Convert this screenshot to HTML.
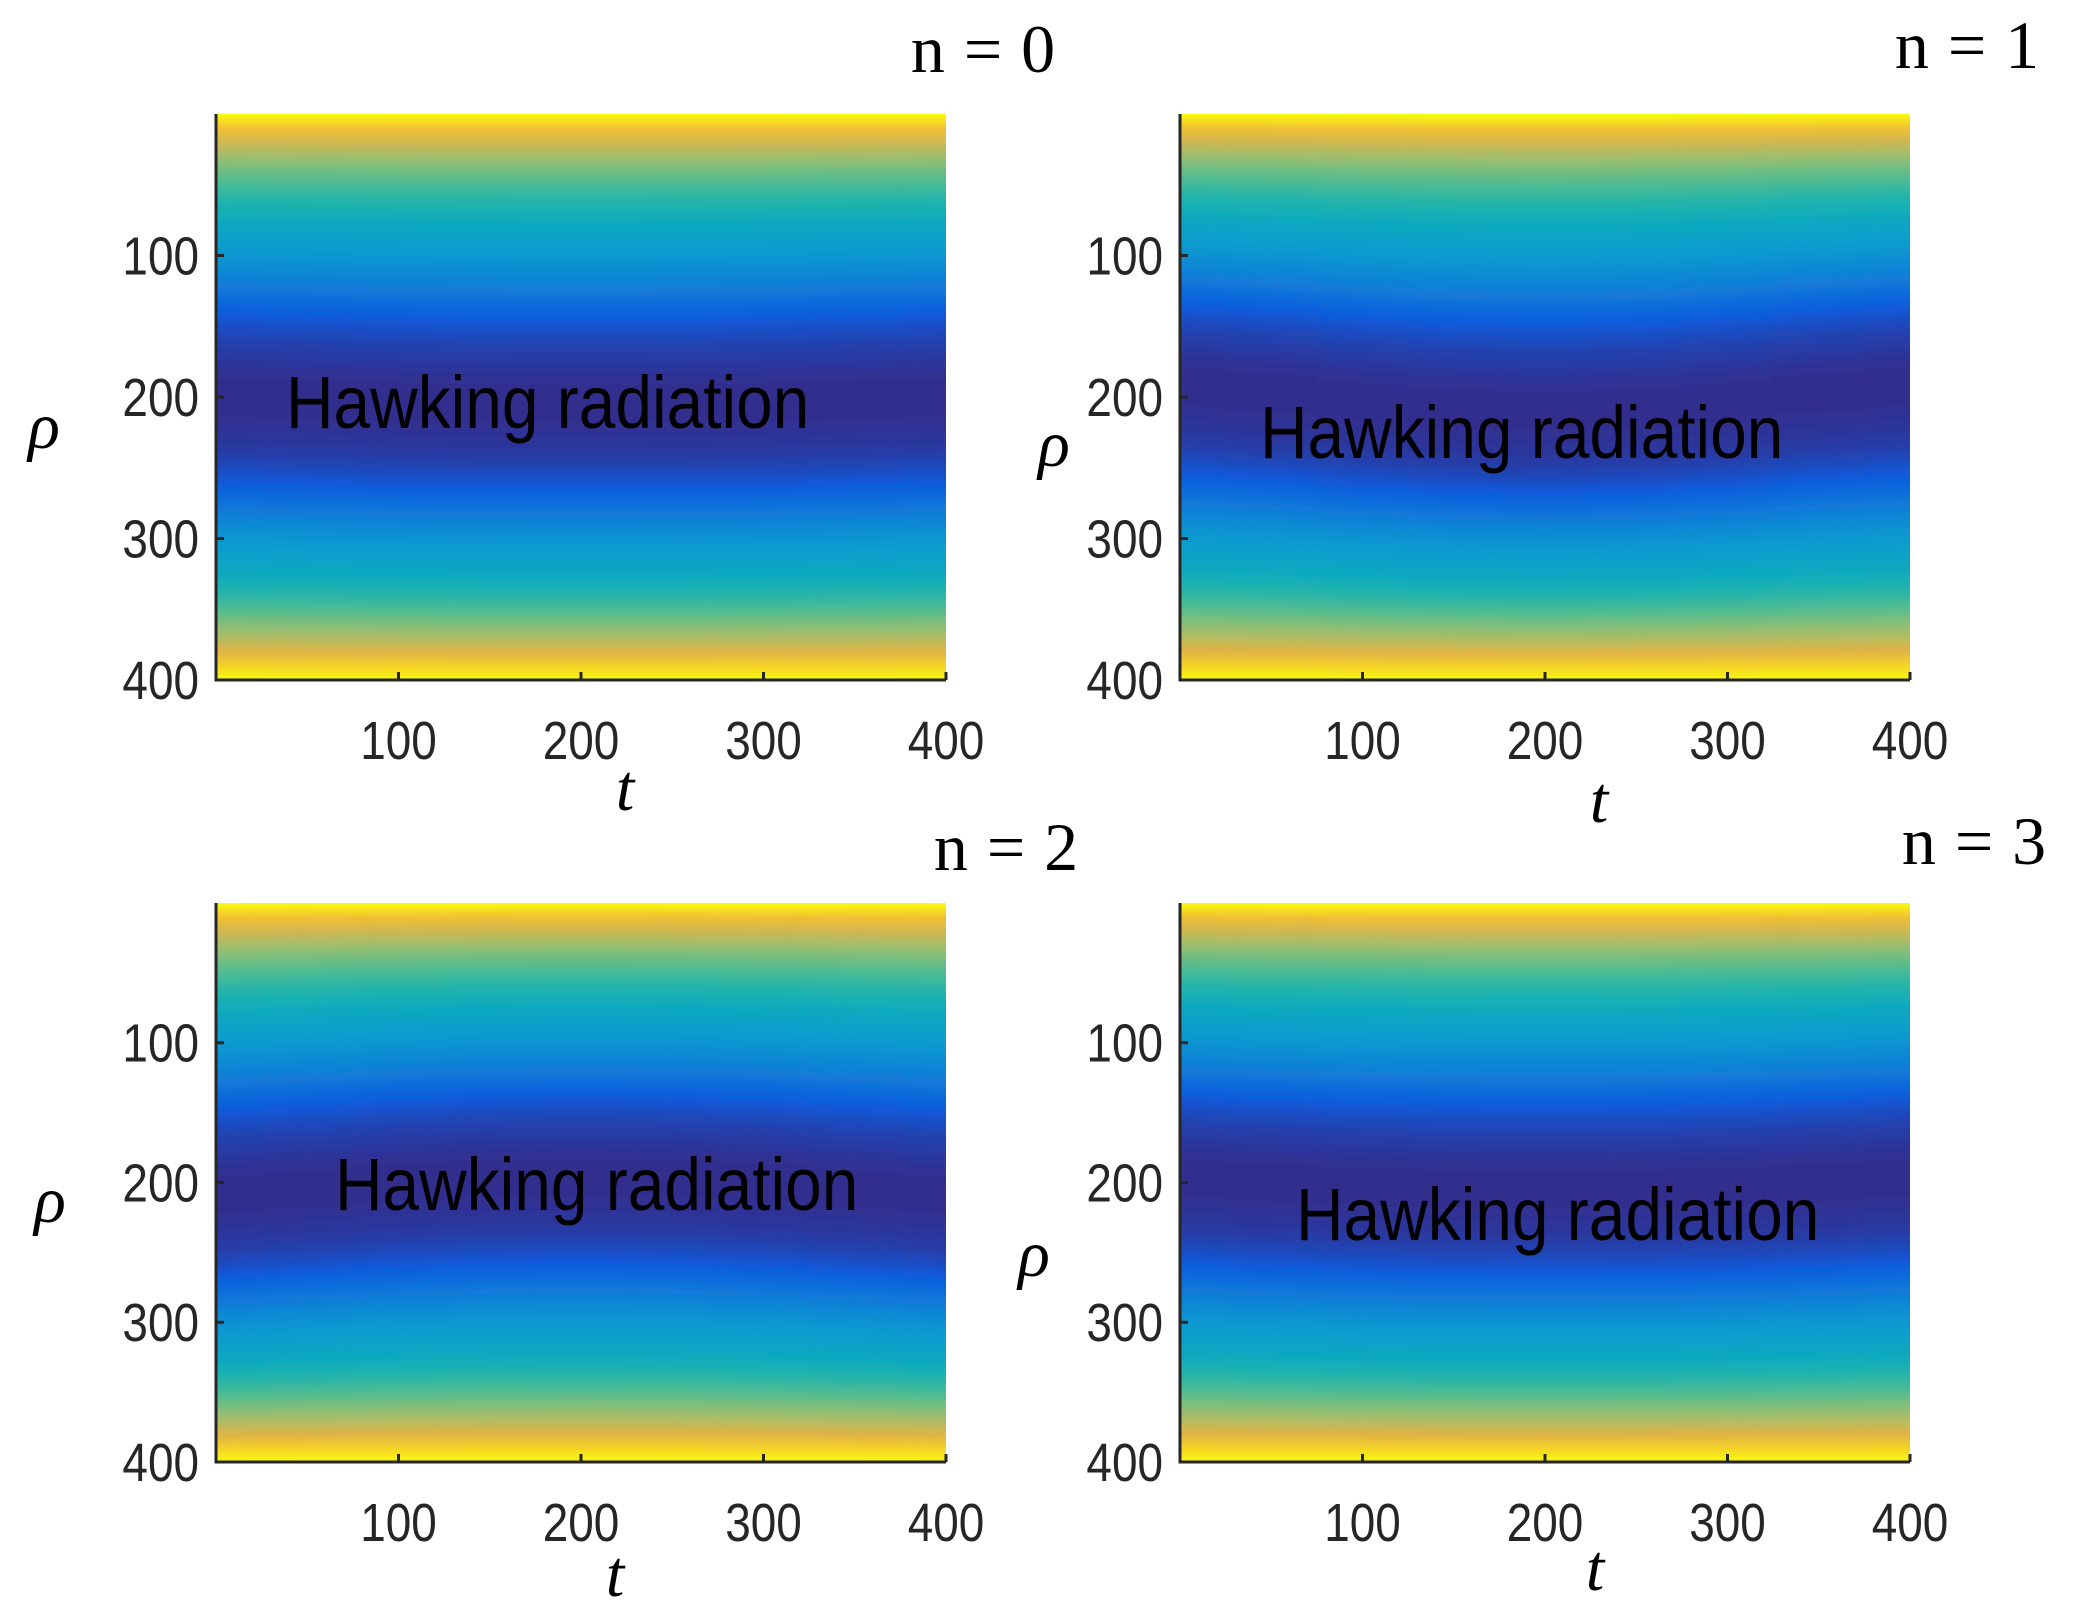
<!DOCTYPE html>
<html><head><meta charset="utf-8"><style>
body{margin:0;background:#fff}
svg{display:block}
.tk{font-family:"Liberation Sans",sans-serif;font-size:54px;fill:#262626}
.hw{font-family:"Liberation Sans",sans-serif;font-size:74px;fill:#000}
.tt{font-family:"Liberation Serif",serif;font-size:68px;fill:#000;word-spacing:2px}
.ax{font-family:"Liberation Serif",serif;font-style:italic;font-size:66px;fill:#000}
</style></head><body>
<svg id="c" width="2073" height="1617" viewBox="0 0 2073 1617" xmlns="http://www.w3.org/2000/svg"><defs id="d"><filter id="hb" x="0" y="0" width="1" height="1"><feGaussianBlur stdDeviation="30 0"/></filter></defs></svg>
<script>
const rhoLevels=[0,10,20,30,40,50,60,70,80,90,100,110,120,130,140,150,160,170,180,190,200,210,220,230,240,250,260,270,280,290,300,310,320,330,340,350,360,370,380,390,400];
const profile=[1.0,0.9,0.82,0.74,0.66,0.59,0.53,0.48,0.43,0.39,0.35,0.3,0.25,0.19,0.13,0.09,0.06,0.04,0.02,0.01,0.01,0.01,0.02,0.03,0.05,0.08,0.12,0.18,0.24,0.3,0.35,0.39,0.43,0.48,0.54,0.61,0.69,0.77,0.85,0.93,1.0];
const tCols=[0,50,100,150,200,250,300,350,400];
const shiftN0=[0,2,4,5,5,5,4,2,0];
const shiftN1=[-8,-3,4,9,11,9,4,-3,-8];
const shiftN2=[10,5,0,-3,-4,-3,0,5,10];
const shiftN3=[-4,0,3,5,5,5,3,0,-4];
const tickVals=[100,200,300,400];
const titles=["n = 0","n = 1","n = 2","n = 3"];
const panels=[
 {x0:216,x1:946,y0:114,y1:680,sh:shiftN0,tx:983,ty:72,tl:[625,810],rl:[44,448],hw:[286,428]},
 {x0:1180,x1:1910,y0:114,y1:680,sh:shiftN1,tx:1967,ty:68,tl:[1599,822],rl:[1054,466],hw:[1260,458]},
 {x0:216,x1:946,y0:903,y1:1462,sh:shiftN2,tx:1006,ty:870,tl:[615,1596],rl:[50,1222],hw:[335,1210]},
 {x0:1180,x1:1910,y0:903,y1:1462,sh:shiftN3,tx:1974,ty:864,tl:[1595,1590],rl:[1034,1276],hw:[1296,1240]}
];
const cmap=[[53,42,135],[15,92,221],[18,125,216],[7,156,207],[21,177,180],[89,189,140],[165,190,107],[240,178,60],[249,251,14]];
function col(v){v=Math.max(0,Math.min(1,v));const p=v*(cmap.length-1),i=Math.min(cmap.length-2,Math.floor(p)),f=p-i;
 const c=cmap[i].map((a,k)=>Math.round(a+(cmap[i+1][k]-a)*f));return `rgb(${c[0]},${c[1]},${c[2]})`;}
const NS="http://www.w3.org/2000/svg",svg=document.getElementById('c'),defs=document.getElementById('d');
function mk(t,a,p){const e=document.createElementNS(NS,t);for(const k in a)e.setAttribute(k,a[k]);(p||svg).appendChild(e);return e;}
panels.forEach((P,pi)=>{
 const g=mk('g',{});
 
 
 const xs=t=>P.x0+(P.x1-P.x0)*t/400, ys=r=>P.y0+(P.y1-P.y0)*r/400;
 const w=(P.x1-P.x0)/(tCols.length-1);
 const cp=mk('clipPath',{id:'cp'+pi},defs);
 mk('rect',{x:P.x0,y:P.y0,width:P.x1-P.x0,height:P.y1-P.y0},cp);
 const clipG=mk('g',{'clip-path':`url(#cp${pi})`},g);
 const hm=mk('g',{filter:'url(#hb)'},clipG);
 
 
 tCols.forEach((t,ci)=>{
  const gid='g'+pi+'_'+ci;
  const lg=mk('linearGradient',{id:gid,x1:0,y1:0,x2:0,y2:1},defs);
  rhoLevels.forEach((r,ri)=>{
   const rr=Math.max(0,Math.min(400,r+P.sh[ci]*(1-Math.abs(r-200)/200)));
   mk('stop',{offset:(rr/400).toFixed(4),'stop-color':col(profile[ri])},lg);
  });
  let x=xs(t)-w/2,x2=xs(t)+w/2+1;
  if(ci===0)x-=120; if(ci===tCols.length-1)x2+=120;
  const cell=mk('rect',{x:x,y:P.y0,width:x2-x,height:P.y1-P.y0,fill:`url(#${gid})`},hm);
  
  
 });
 const ax=mk('path',{d:`M${P.x0} ${P.y0}V${P.y1}H${P.x1}`,stroke:'#262626','stroke-width':3,fill:'none'},g);
 
 
 tickVals.forEach(v=>{
  mk('line',{x1:xs(v),x2:xs(v),y1:P.y1,y2:P.y1-8,stroke:'#262626','stroke-width':3},g);
  mk('line',{x1:P.x0,x2:P.x0+8,y1:ys(v),y2:ys(v),stroke:'#262626','stroke-width':3},g);
  const xl=mk('text',{class:'tk',x:xs(v)/0.85,y:P.y1+79,'text-anchor':'middle',transform:'scale(0.85 1)'},g);
  xl.textContent=v;
  
  
  const yl=mk('text',{class:'tk',x:(P.x0-17)/0.85,y:ys(v)+19,'text-anchor':'end',transform:'scale(0.85 1)'},g);
  yl.textContent=v;
  
  
 });
 const hw=mk('text',{class:'hw',x:P.hw[0]/0.89,y:P.hw[1],transform:'scale(0.89 1)'},g);
 hw.textContent='Hawking radiation';
 
 
 const ti=mk('text',{class:'tt',x:P.tx,y:P.ty,'text-anchor':'middle'},g);
 ti.textContent=titles[pi];
 
 
 const tl=mk('text',{class:'ax',x:P.tl[0],y:P.tl[1],'text-anchor':'middle'},g);
 tl.textContent='t';
 
 
 const rl=mk('text',{class:'ax',x:P.rl[0],y:P.rl[1],'text-anchor':'middle'},g);
 rl.textContent='ρ';
 
 
});
</script>
</body></html>
